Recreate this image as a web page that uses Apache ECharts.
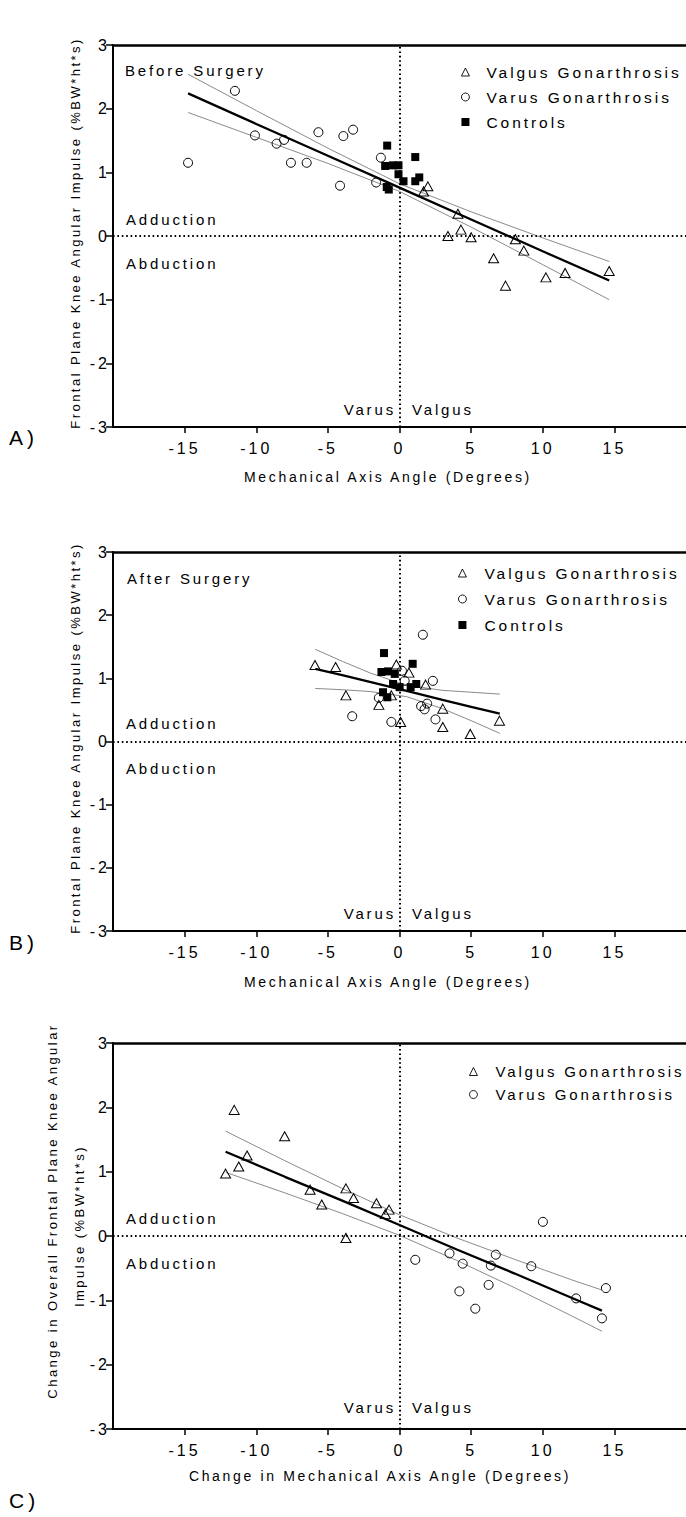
<!DOCTYPE html>
<html><head><meta charset="utf-8">
<script src="https://cdn.jsdelivr.net/npm/echarts@6.0.0/dist/echarts.min.js"></script>
<style>
html,body{margin:0;padding:0;background:#fff}
#chart{width:686px;height:1517px}
#chart svg text{letter-spacing:0.19em}
</style>
</head><body><div id="chart"></div>
<script>
// ---------- tick labels ----------
const xTicks = [-15, -10, -5, 0, 5, 10, 15];

// ---------- Panel A: Before Surgery ----------
const beforeValgus = [[1.98,0.78],[1.68,0.70],[4.08,0.35],[4.29,0.10],[3.38,0.00],[5.0,-0.02],[8.09,-0.05],[8.68,-0.23],[6.57,-0.35],[7.4,-0.78],[10.22,-0.65],[11.56,-0.58],[14.64,-0.55]];
const beforeVarus = [[-14.76,1.15],[-11.49,2.28],[-10.09,1.58],[-8.58,1.45],[-8.06,1.51],[-7.58,1.15],[-6.48,1.15],[-5.66,1.63],[-4.15,0.79],[-3.92,1.57],[-3.24,1.67],[-1.63,0.84],[-1.3,1.23]];
const beforeControls = [[-0.86,1.42],[-1.0,1.10],[-0.45,1.11],[-0.07,1.11],[-0.07,0.97],[0.28,0.86],[1.1,1.24],[1.1,0.86],[1.38,0.92],[-0.89,0.77],[-0.75,0.73]];
const fitAx = [-14.76,-10,-5,0,5,10,14.64];
const fitAmain = [2.24,1.76,1.26,0.76,0.26,-0.24,-0.70];
const fitAupper = [2.54,1.97,1.38,0.82,0.38,-0.03,-0.40];
const fitAlower = [1.94,1.55,1.14,0.70,0.14,-0.45,-1.00];

// ---------- Panel B: After Surgery ----------
const afterValgus = [[-5.9,1.21],[-4.46,1.18],[-3.74,0.73],[-1.44,0.58],[-0.57,0.73],[-0.22,1.22],[0.08,0.31],[0.66,1.09],[1.82,0.90],[3.02,0.52],[3.02,0.23],[4.94,0.12],[6.98,0.33]];
const afterVarus = [[1.63,1.69],[2.33,0.96],[0.17,1.12],[0.36,0.96],[-1.44,0.69],[-3.3,0.40],[-0.57,0.31],[1.51,0.56],[1.93,0.60],[1.75,0.51],[2.51,0.35]];
const afterControls = [[-1.08,1.40],[0.92,1.23],[-1.26,1.10],[-0.8,1.11],[-0.33,1.07],[-0.45,0.91],[0.01,0.86],[0.78,0.86],[1.17,0.91],[-1.15,0.78],[-0.85,0.70]];
const fitBx = [-5.88,-4,-2,0.5,3,5,7];
const fitBmain = [1.15,1.05,0.94,0.80,0.66,0.55,0.44];
const fitBupper = [1.46,1.27,1.08,0.89,0.81,0.78,0.75];
const fitBlower = [0.84,0.82,0.79,0.71,0.52,0.33,0.13];

// ---------- Panel C: Change ----------
const changeValgus = [[-11.54,1.96],[-8.02,1.55],[-10.64,1.25],[-11.22,1.08],[-12.14,0.97],[-6.24,0.72],[-5.43,0.49],[-3.74,0.74],[-3.21,0.59],[-1.61,0.51],[-0.73,0.41],[-0.99,0.34],[-3.74,-0.03]];
const changeVarus = [[10.01,0.22],[1.1,-0.37],[3.49,-0.27],[4.41,-0.43],[6.72,-0.29],[6.38,-0.46],[9.2,-0.47],[4.18,-0.86],[6.22,-0.76],[5.29,-1.13],[12.33,-0.97],[14.41,-0.81],[14.13,-1.28]];
const fitCx = [-12.14,-8,-4,0,4,8,12,14.13];
const fitCmain = [1.31,0.92,0.55,0.17,-0.21,-0.58,-0.96,-1.16];
const fitCupper = [1.63,1.17,0.74,0.33,-0.03,-0.36,-0.68,-0.84];
const fitClower = [0.99,0.67,0.35,0.01,-0.38,-0.80,-1.24,-1.48];

const NAME_VALGUS = 'Valgus Gonarthrosis';
const NAME_VARUS = 'Varus Gonarthrosis';
const NAME_CTRL = 'Controls';

const FONT = '"Liberation Sans", Arial, sans-serif';
const zip = (xs, ys) => xs.map((x, i) => [x, ys[i]]);

const grids = [
  {left: 113, top: 45, width: 577, height: 382},
  {left: 113, top: 552, width: 577, height: 379},
  {left: 113, top: 1043, width: 577, height: 386}
];

const xAxes = [], yAxes = [];
for (let i = 0; i < 3; i++) {
  xAxes.push({
    type: 'value', gridIndex: i, min: -20, max: 20, position: 'bottom',
    axisLine: {show: true, onZero: false, lineStyle: {color: '#000', width: 2}},
    axisTick: {show: true, customValues: xTicks, length: 6, lineStyle: {color: '#000', width: 1.5}},
    axisLabel: {customValues: xTicks, fontSize: 16, color: '#000', fontFamily: FONT, margin: 13},
    splitLine: {show: false}
  });
  yAxes.push({
    type: 'value', gridIndex: i, min: -3, max: 3, interval: 1,
    axisLine: {show: true, onZero: false, lineStyle: {color: '#000', width: 2}},
    axisTick: {show: true, length: 7, lineStyle: {color: '#000', width: 1.5}},
    axisLabel: {fontSize: 16, color: '#000', fontFamily: FONT, margin: 3},
    splitLine: {show: false}
  });
}
for (let i = 0; i < 3; i++) {
  xAxes.push({
    type: 'value', gridIndex: i, min: -20, max: 20, position: 'top',
    axisLine: {show: true, onZero: false, lineStyle: {color: '#000', width: 2.5}},
    axisTick: {show: false}, axisLabel: {show: false}, splitLine: {show: false}
  });
}

const zeroLines = {
  silent: true, symbol: ['none', 'none'], label: {show: false},
  lineStyle: {color: '#000', type: [1.6, 2.8], width: 2},
  emphasis: {disabled: true},
  data: [{xAxis: 0}, {yAxis: 0}]
};

function fitSeries(i, xs, main, up, lo) {
  const base = {type: 'line', xAxisIndex: i, yAxisIndex: i, showSymbol: false, symbol: 'none', silent: true, animation: false};
  return [
    Object.assign({}, base, {data: zip(xs, up), lineStyle: {color: '#8a8a8a', width: 1}, z: 2}),
    Object.assign({}, base, {data: zip(xs, lo), lineStyle: {color: '#8a8a8a', width: 1}, z: 2}),
    Object.assign({}, base, {data: zip(xs, main), lineStyle: {color: '#000', width: 2.3}, z: 3, markLine: zeroLines})
  ];
}
const hollow = {color: 'rgba(255,255,255,0)', borderColor: '#000', borderWidth: 1, opacity: 1};
function scatter(i, name, data) {
  const s = {type: 'scatter', name: name, xAxisIndex: i, yAxisIndex: i, data: data, z: 4};
  if (name === NAME_VALGUS) { s.symbol = 'triangle'; s.symbolSize = [10, 9]; s.itemStyle = hollow; }
  else if (name === NAME_VARUS) { s.symbol = 'circle'; s.symbolSize = 9; s.itemStyle = hollow; }
  else { s.symbol = 'rect'; s.symbolSize = 8; s.itemStyle = {color: '#000', opacity: 1}; }
  return s;
}

const series = [].concat(
  fitSeries(0, fitAx, fitAmain, fitAupper, fitAlower),
  [scatter(0, NAME_VALGUS, beforeValgus), scatter(0, NAME_VARUS, beforeVarus), scatter(0, NAME_CTRL, beforeControls)],
  fitSeries(1, fitBx, fitBmain, fitBupper, fitBlower),
  [scatter(1, NAME_VALGUS, afterValgus), scatter(1, NAME_VARUS, afterVarus), scatter(1, NAME_CTRL, afterControls)],
  fitSeries(2, fitCx, fitCmain, fitCupper, fitClower),
  [scatter(2, NAME_VALGUS, changeValgus), scatter(2, NAME_VARUS, changeVarus)]
);

function legend(left, top, gap, pad, size, names) {
  return {
    orient: 'vertical', left: left, top: top, itemWidth: 8, itemHeight: 8, itemGap: gap,
    selectedMode: false, data: names,
    itemStyle: {borderWidth: 0.9},
    textStyle: {fontSize: size, color: '#000', fontFamily: FONT, padding: [0, 0, 0, pad]}
  };
}

function txt(text, x, y, o) {
  o = o || {};
  return {
    type: 'text', x: x, y: y, rotation: o.rot || 0, silent: true,
    style: {text: text, font: (o.size || 15) + 'px ' + FONT, fill: '#000',
      textAlign: o.align || 'left', textVerticalAlign: 'middle'}
  };
}
const R = Math.PI / 2;
const graphics = [
  // Panel A
  txt('Before Surgery', 125, 70), txt('Adduction', 126, 219), txt('Abduction', 126, 263),
  txt('Varus', 396, 409, {align: 'right'}), txt('Valgus', 412, 409),
  txt('Frontal Plane Knee Angular Impulse (%BW*ht*s)', 75, 233, {rot: R, size: 13, align: 'center'}),
  txt('Mechanical Axis Angle (Degrees)', 388, 477, {size: 14, align: 'center'}),
  txt('A)', 9, 437, {size: 21}),
  // Panel B
  txt('After Surgery', 127, 578), txt('Adduction', 126, 723), txt('Abduction', 126, 768),
  txt('Varus', 396, 913, {align: 'right'}), txt('Valgus', 412, 913),
  txt('Frontal Plane Knee Angular Impulse (%BW*ht*s)', 75, 738, {rot: R, size: 13, align: 'center'}),
  txt('Mechanical Axis Angle (Degrees)', 388, 982, {size: 14, align: 'center'}),
  txt('B)', 9, 942, {size: 21}),
  // Panel C
  txt('Adduction', 126, 1218), txt('Abduction', 126, 1263),
  txt('Varus', 396, 1407, {align: 'right'}), txt('Valgus', 412, 1407),
  txt('Change in Overall Frontal Plane Knee Angular', 52, 1211, {rot: R, size: 13, align: 'center'}),
  txt('Impulse (%BW*ht*s)', 79, 1226, {rot: R, size: 13, align: 'center'}),
  txt('Change in Mechanical Axis Angle (Degrees)', 380, 1476, {size: 14, align: 'center'}),
  txt('C)', 9, 1500, {size: 21})
];

const chart = echarts.init(document.getElementById('chart'), null, {renderer: 'svg'});
chart.setOption({
  animation: false,
  backgroundColor: '#fff',
  grid: grids,
  xAxis: xAxes,
  yAxis: yAxes,
  legend: [
    legend(456, 59, 9, 12, 15.5, [NAME_VALGUS, NAME_VARUS, NAME_CTRL]),
    legend(453, 560, 10, 13, 15.5, [NAME_VALGUS, NAME_VARUS, NAME_CTRL]),
    legend(464, 1059, 8, 13, 15, [NAME_VALGUS, NAME_VARUS])
  ],
  series: series,
  graphic: graphics
});
</script></body></html>
